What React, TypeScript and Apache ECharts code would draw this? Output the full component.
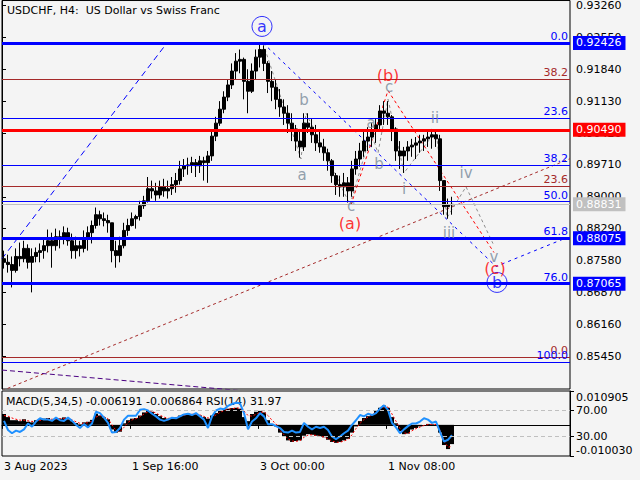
import React, { useEffect, useRef } from 'react';
import * as echarts from 'echarts';

const FONT = 'DejaVu Sans';
const BLUE = '#0000ff';
const RED = '#ff0000';
const BROWN = '#a52a2a';
const GREY_LABEL = '#778899';
const GREY_LINE = '#8c8c8c';
const BG = '#f4f4f4';

// ---------- axes ----------
// one category = 4 H4 bars
const CATEGORY_COUNT = 142;
const xTickIndex = [0, 32, 64, 96];
const xTickLabels = ['3 Aug 2023', '1 Sep 16:00', '3 Oct 00:00', '1 Nov 08:00'];
const priceTicks = [0.9326, 0.9255, 0.9184, 0.9113, 0.9042, 0.8971, 0.89, 0.8829, 0.8758, 0.8687, 0.8616, 0.8545];
const priceMin = 0.84718;
const priceMax = 0.93371;
const macdTicks = [0.010905, -0.01003];
const rsiTicks = [70, 30];

// ---------- price (4-bar candles) ----------
const priceOpen = [0.8762, 0.8754, 0.8749, 0.8736, 0.8767, 0.8762, 0.8785, 0.8754, 0.8767, 0.8776,
  0.8780, 0.8791, 0.8802, 0.8791, 0.8811, 0.8807, 0.8820, 0.8802, 0.8780, 0.8791,
  0.8785, 0.8807, 0.8820, 0.8836, 0.8860, 0.8851, 0.8847, 0.8842, 0.8780, 0.8769,
  0.8791, 0.8825, 0.8836, 0.8851, 0.8856, 0.8880, 0.8891, 0.8918, 0.8913, 0.8904,
  0.8922, 0.8913, 0.8918, 0.8927, 0.8936, 0.8962, 0.8969, 0.8971, 0.8976, 0.8969,
  0.8980, 0.8976, 0.8991, 0.9035, 0.9064, 0.9095, 0.9122, 0.9149, 0.9180, 0.9202,
  0.9206, 0.9157, 0.9135, 0.9180, 0.9211, 0.9228, 0.9197, 0.9157, 0.9144, 0.9117,
  0.9100, 0.9086, 0.9064, 0.9051, 0.9024, 0.9011, 0.9064, 0.9055, 0.9038, 0.9020,
  0.9011, 0.8998, 0.8980, 0.8947, 0.8927, 0.8922, 0.8931, 0.8913, 0.8962, 0.8984,
  0.9002, 0.9024, 0.9033, 0.9046, 0.9060, 0.9091, 0.9086, 0.9078, 0.9051, 0.9002,
  0.8991, 0.9002, 0.9011, 0.9015, 0.9020, 0.9024, 0.9029, 0.9033, 0.9038, 0.9029,
  0.8936, 0.8878, 0.8882];
const priceClose = [0.8754, 0.8749, 0.8736, 0.8767, 0.8762, 0.8785, 0.8754, 0.8767, 0.8776, 0.8780,
  0.8791, 0.8802, 0.8791, 0.8811, 0.8807, 0.8820, 0.8802, 0.8780, 0.8791, 0.8785,
  0.8807, 0.8820, 0.8836, 0.8860, 0.8851, 0.8847, 0.8842, 0.8780, 0.8769, 0.8791,
  0.8825, 0.8836, 0.8851, 0.8856, 0.8880, 0.8891, 0.8918, 0.8913, 0.8904, 0.8922,
  0.8913, 0.8918, 0.8927, 0.8936, 0.8962, 0.8969, 0.8971, 0.8976, 0.8969, 0.8980,
  0.8976, 0.8991, 0.9035, 0.9064, 0.9095, 0.9122, 0.9149, 0.9180, 0.9202, 0.9206,
  0.9157, 0.9135, 0.9180, 0.9211, 0.9228, 0.9197, 0.9157, 0.9144, 0.9117, 0.9100,
  0.9086, 0.9064, 0.9051, 0.9024, 0.9011, 0.9064, 0.9055, 0.9038, 0.9020, 0.9011,
  0.8998, 0.8980, 0.8947, 0.8927, 0.8922, 0.8931, 0.8913, 0.8962, 0.8984, 0.9002,
  0.9024, 0.9033, 0.9046, 0.9060, 0.9091, 0.9086, 0.9078, 0.9051, 0.9002, 0.8991,
  0.9002, 0.9011, 0.9015, 0.9020, 0.9024, 0.9029, 0.9033, 0.9038, 0.9029, 0.8936,
  0.8878, 0.8882, 0.88831];
const priceHigh = [0.8780, 0.8771, 0.8767, 0.8785, 0.8798, 0.8802, 0.8794, 0.8785, 0.8787, 0.8796,
  0.8807, 0.8827, 0.8820, 0.8829, 0.8825, 0.8834, 0.8831, 0.8818, 0.8811, 0.8802,
  0.8825, 0.8834, 0.8847, 0.8876, 0.8869, 0.8865, 0.8860, 0.8842, 0.8802, 0.8811,
  0.8842, 0.8851, 0.8865, 0.8860, 0.8891, 0.8902, 0.8944, 0.8936, 0.8931, 0.8936,
  0.8940, 0.8936, 0.8944, 0.8953, 0.8980, 0.8984, 0.8987, 0.8989, 0.8984, 0.8991,
  0.8989, 0.9002, 0.9046, 0.9078, 0.9113, 0.9135, 0.9162, 0.9197, 0.9220, 0.9228,
  0.9210, 0.9184, 0.9197, 0.9228, 0.92426, 0.9237, 0.9202, 0.9180, 0.9162, 0.9140,
  0.9117, 0.9104, 0.9086, 0.9060, 0.9051, 0.9086, 0.9086, 0.9073, 0.9060, 0.9046,
  0.9029, 0.9007, 0.8984, 0.8953, 0.8947, 0.8953, 0.8944, 0.8980, 0.9002, 0.9020,
  0.9046, 0.9055, 0.9064, 0.9073, 0.9104, 0.9113, 0.9113, 0.9082, 0.9055, 0.9024,
  0.9011, 0.9024, 0.9029, 0.9033, 0.9038, 0.9038, 0.9046, 0.9051, 0.9046, 0.9038,
  0.8936, 0.8896, 0.8900];
const priceLow = [0.8740, 0.8731, 0.8698, 0.8731, 0.8745, 0.8754, 0.8740, 0.8687, 0.8754, 0.8754,
  0.8762, 0.8776, 0.8742, 0.8780, 0.8785, 0.8794, 0.8791, 0.8762, 0.8762, 0.8767,
  0.8776, 0.8780, 0.8796, 0.8829, 0.8836, 0.8834, 0.8820, 0.8754, 0.8742, 0.8754,
  0.8785, 0.8813, 0.8834, 0.8829, 0.8847, 0.8873, 0.8887, 0.8896, 0.8891, 0.8896,
  0.8900, 0.8896, 0.8904, 0.8909, 0.8927, 0.8944, 0.8949, 0.8953, 0.8944, 0.8953,
  0.8936, 0.8931, 0.8980, 0.9024, 0.9058, 0.9086, 0.9113, 0.9140, 0.9162, 0.9175,
  0.9117, 0.9086, 0.9131, 0.9162, 0.9188, 0.9180, 0.9131, 0.9113, 0.9095, 0.9078,
  0.9060, 0.9042, 0.9024, 0.9002, 0.8987, 0.9002, 0.9042, 0.9020, 0.9002, 0.8998,
  0.8980, 0.8958, 0.8931, 0.8904, 0.8900, 0.8900, 0.8887, 0.8900, 0.8949, 0.8967,
  0.8989, 0.9002, 0.9011, 0.9020, 0.9051, 0.9060, 0.9060, 0.9024, 0.8980, 0.8962,
  0.8953, 0.8980, 0.8989, 0.8984, 0.8998, 0.9002, 0.9011, 0.9007, 0.9011, 0.8913,
  0.8860, 0.8851, 0.8860];

// ---------- indicator ----------
const macdHist = [0.0035, 0.0025, 0.0015, 0.0015, 0.0012, 0.0018, 0.0010, 0.0008, 0.0015, 0.0018,
  0.0020, 0.0022, 0.0016, 0.0022, 0.0020, 0.0024, 0.0018, 0.0012, 0.0006, 0.0002,
  0.0008, 0.0010, 0.0016, 0.0036, 0.0030, 0.0024, 0.0018, -0.0015, -0.0025, -0.0022,
  0.0005, 0.0015, 0.0020, 0.0022, 0.0030, 0.0040, 0.0045, 0.0042, 0.0035, 0.0028,
  0.0022, 0.0020, 0.0022, 0.0024, 0.0030, 0.0034, 0.0036, 0.0033, 0.0034, 0.0030,
  0.0025, 0.0020, 0.0030, 0.0038, 0.0045, 0.0050, 0.0052, 0.0054, 0.0055, 0.0052,
  0.0025, 0.0012, 0.0035, 0.0042, 0.0045, 0.0040, 0.0015, 0.0003, -0.0005, -0.0025,
  -0.0038, -0.0050, -0.0055, -0.0052, -0.0050, -0.0035, -0.0030, -0.0032, -0.0035, -0.0038,
  -0.0040, -0.0048, -0.0055, -0.0058, -0.0055, -0.0050, -0.0045, -0.0025, -0.0005, 0.0012,
  0.0022, 0.0028, 0.0035, 0.0045, 0.0055, 0.0062, 0.0055, 0.0025, 0.0005, -0.0020,
  -0.0030, -0.0028, -0.0015, -0.0010, -0.0005, 0.0000, 0.0003, 0.0002, 0.0000, -0.0025,
  -0.0065, -0.0078, -0.0062];
const macdSignal = [0.0030, 0.0028, 0.0022, 0.0018, 0.0015, 0.0015, 0.0013, 0.0011,
  0.0011, 0.0014, 0.0017, 0.0019, 0.0018, 0.0019, 0.0020, 0.0021, 0.0020, 0.0016,
  0.0010, 0.0005, 0.0005, 0.0007, 0.0012, 0.0025, 0.0030, 0.0026, 0.0020,
  0.0000, -0.0018, -0.0022, -0.0008, 0.0008,
  0.0016, 0.0020, 0.0026, 0.0035, 0.0042, 0.0043, 0.0038, 0.0031, 0.0025, 0.0021, 0.0021, 0.0023,
  0.0027, 0.0031, 0.0034, 0.0034, 0.0034, 0.0032, 0.0027, 0.0022,
  0.0025, 0.0032, 0.0040, 0.0046, 0.0050, 0.0052, 0.0054, 0.0054,
  0.0045, 0.0030, 0.0028, 0.0034, 0.0040, 0.0042, 0.0030, 0.0015, 0.0003,
  -0.0018, -0.0032, -0.0045, -0.0052, -0.0053, -0.0051, -0.0040, -0.0033, -0.0032, -0.0034, -0.0037, -0.0039,
  -0.0045, -0.0052, -0.0056, -0.0056, -0.0052, -0.0047, -0.0032, -0.0012, 0.0005,
  0.0017, 0.0025, 0.0032, 0.0041, 0.0051, 0.0058, 0.0057, 0.0035, 0.0012, -0.0012, -0.0026, -0.0028,
  -0.0019, -0.0012, -0.0007, -0.0002, 0.0001, 0.0002, 0.0001, -0.0018, -0.0052, -0.0072, -0.0069];
const rsiValues = [54, 40, 35, 39, 37, 41, 50, 45, 53, 58,
  56, 56, 54, 59, 55, 54, 59, 54, 48, 43,
  49, 44, 50, 68, 66, 59, 51, 36, 37, 43,
  56, 62, 62, 62, 71, 72, 70, 65, 61, 56,
  54, 56, 59, 58, 61, 64, 65, 63, 66, 61,
  56, 43, 61, 70, 73, 72, 77, 80, 82, 81,
  66, 41, 53, 58, 66, 61, 49, 49, 46, 43,
  37, 36, 39, 36, 37, 51, 45, 41, 45, 43,
  45, 40, 30, 26, 30, 35, 39, 48, 55, 63,
  61, 65, 63, 66, 73, 78, 71, 51, 44, 35,
  41, 46, 50, 50, 53, 58, 56, 51, 53, 37,
  22, 25, 31.97];

// ---------- horizontal levels ----------
const blueFibLevels = ['0.0', '23.6', '38.2', '50.0', '61.8', '76.0', '100.0'];
const blueFibPrices = [0.92426, 0.90750, 0.89710, 0.88889, 0.88075, 0.87065, 0.85320];
const redFibLevels = ['0.0', '23.6', '38.2'];
const redFibPrices = [0.85421, 0.89244, 0.91618];
const blueLevelPrices = [0.92426, 0.88075, 0.87065];
const redLevelPrices = [0.90490];
const bidPrice = 0.88831;

// ---------- wave annotations (x in H4 bars from the first bar) ----------
const trendBars = [0, 165];
const trendPrices = [0.8762, 0.92426];
const waveBlueBars = [261, 494, 560];
const waveBluePrices = [0.92426, 0.87447, 0.88046];
const waveRedBars = [349, 386, 492];
const waveRedPrices = [0.8882, 0.91363, 0.87758];
const greyABars = [261, 299, 304, 348];
const greyAPrices = [0.92426, 0.89843, 0.90864, 0.88823];
const greyBBars = [348, 369, 376, 386];
const greyBPrices = [0.88823, 0.9042, 0.89977, 0.91175];
const greyCBars = [386, 402, 434, 445, 464, 491];
const greyCPrices = [0.91175, 0.89533, 0.90465, 0.88534, 0.89222, 0.87957];
const channelBars = [0, 568];
const channelPrices = [0.8468, 0.89848];
const purpleBars = [0, 240];
const purplePrices = [0.8514, 0.8468];

const greyWaveNames = ['b', 'a', 'c', 'a', 'b', 'c', 'i', 'ii', 'iii', 'iv', 'v'];
const greyWaveBars = [302, 300, 349, 369, 377, 387, 402, 433, 447, 464, 492];
const greyWavePrices = [0.91153, 0.89488, 0.888, 0.90642, 0.89733, 0.91441, 0.89178, 0.90753, 0.88202, 0.89533, 0.87669];
const redWaveNames = ['(a)', '(b)', '(c)'];
const redWaveBars = [348, 386, 493];
const redWavePrices = [0.88401, 0.91707, 0.87402];
const circleWaveNames = ['a', 'b'];
const circleWaveBars = [260, 495];
const circleWavePrices = [0.92794, 0.87092];

const MAIN_TITLE = 'USDCHF, H4:  US Dollar vs Swiss Franc';
const IND_TITLE = 'MACD(5,34,5) -0.006191 -0.006864 RSI(14) 31.97';

// ---------- builders ----------
const categories = Array.from({ length: CATEGORY_COUNT }, (_, i) => String(i));
const tickMap: Record<string, string> = {};
xTickIndex.forEach((idx, k) => { tickMap[String(idx)] = xTickLabels[k]; });
const isTick = (idx: number) => xTickIndex.indexOf(idx) >= 0;
const candleData = priceClose.map((c, i) => [priceOpen[i], c, priceLow[i], priceHigh[i]]);
const pts = (bars: number[], prices: number[]) => bars.map((b, i) => [b, prices[i]]);
const named = (names: string[], bars: number[], prices: number[]) =>
  names.map((n, i) => ({ name: n, value: [bars[i], prices[i]] }));

const txt = (color: string, size: number) => ({ color, fontSize: size, fontFamily: FONT });

const fibLabel = (text: string, color: string) => ({
  show: true, position: 'insideEndTop', formatter: text, distance: [2, 1], ...txt(color, 11),
});
const boxLabel = (value: number, bg: string) => ({
  show: true, position: 'end', distance: 3, formatter: value.toFixed(5),
  backgroundColor: bg, padding: [1, 4, 0, 3], lineHeight: 13, ...txt('#ffffff', 11),
});

const levelMarks = [
  ...redFibPrices.map((p, i) => ({ yAxis: p, lineStyle: { color: BROWN, width: 1, type: 'solid' }, label: fibLabel(redFibLevels[i], BROWN) })),
  ...blueFibPrices.map((p, i) => ({ yAxis: p, lineStyle: { color: BLUE, width: 1, type: 'solid' }, label: fibLabel(blueFibLevels[i], BLUE) })),
  { yAxis: bidPrice, lineStyle: { color: '#c0c0c0', width: 1, type: 'solid' }, label: boxLabel(bidPrice, '#c0c0c0') },
  ...redLevelPrices.map((p) => ({ yAxis: p, lineStyle: { color: RED, width: 3, type: 'solid' }, label: boxLabel(p, RED) })),
  ...blueLevelPrices.map((p) => ({ yAxis: p, lineStyle: { color: BLUE, width: 3, type: 'solid' }, label: boxLabel(p, BLUE) })),
];

const annoLine = (bars: number[], prices: number[], color: string, dash: number[], extra: any = {}) => ({
  type: 'line', xAxisIndex: 1, yAxisIndex: 0, data: pts(bars, prices), symbol: 'none',
  silent: true, z: 1, clip: true, lineStyle: { color, width: 1, type: dash }, ...extra,
});

const textSeries = (data: any[], color: string, size: number) => ({
  type: 'scatter', xAxisIndex: 1, yAxisIndex: 0, data, symbol: 'circle', symbolSize: 1,
  itemStyle: { color: 'rgba(0,0,0,0)' }, silent: true, z: 6,
  label: { show: true, position: 'inside', formatter: '{b}', ...txt(color, size) },
});

const axisText = { color: '#000', fontSize: 11, fontFamily: FONT };

const option: any = {
  animation: false,
  backgroundColor: BG,
  textStyle: { fontFamily: FONT },
  title: [
    { text: MAIN_TITLE, left: 7, top: 5, padding: 0, z: 0, textStyle: { ...axisText, fontWeight: 'normal' } },
    { text: IND_TITLE, left: 6, top: 396, padding: 0, z: 0, textStyle: { ...axisText, fontWeight: 'normal' } },
  ],
  grid: [
    { left: 2, top: -1, width: 568, height: 390, show: true, borderColor: '#000', borderWidth: 1, backgroundColor: 'transparent' },
    { left: 2, top: 391, width: 568, height: 65, show: true, borderColor: '#000', borderWidth: 1, backgroundColor: 'transparent' },
  ],
  xAxis: [
    { type: 'category', gridIndex: 0, data: categories, show: false, boundaryGap: true },
    { type: 'value', gridIndex: 0, min: 0, max: 568, show: false },
    {
      type: 'category', gridIndex: 1, data: categories, boundaryGap: true,
      axisLine: { show: true, lineStyle: { color: '#000' } },
      axisTick: { show: true, length: 4, interval: (i: number) => isTick(i), lineStyle: { color: '#000' } },
      axisLabel: { show: true, interval: (i: number) => isTick(i), formatter: (v: string) => tickMap[v] || '', align: 'left', margin: 5, ...axisText },
      splitLine: { show: false },
    },
  ],
  yAxis: [
    {
      type: 'value', gridIndex: 0, position: 'right', min: priceMin, max: priceMax,
      axisLine: { show: true, lineStyle: { color: '#000' } },
      axisTick: { show: true, length: 4, customValues: priceTicks, lineStyle: { color: '#000' } },
      axisLabel: { show: true, customValues: priceTicks, formatter: (v: number) => v.toFixed(5), margin: 6, ...axisText },
      splitLine: { show: false },
    },
    {
      type: 'value', gridIndex: 1, position: 'right', min: macdTicks[1], max: macdTicks[0],
      axisLine: { show: true, lineStyle: { color: '#000' } },
      axisTick: { show: true, length: 4, customValues: macdTicks, lineStyle: { color: '#000' } },
      axisLabel: {
        show: true, customValues: macdTicks, margin: 6, ...axisText,
        formatter: (v: number) => (v > 0 ? `{t|${v.toFixed(6)}}` : `{b|${v.toFixed(6)}}`),
        rich: {
          t: { padding: [12, 0, 0, 0], ...axisText },
          b: { padding: [0, 0, 12, 0], ...axisText },
        },
      },
      splitLine: { show: false },
    },
    {
      type: 'value', gridIndex: 1, position: 'right', min: 0, max: 100,
      axisLine: { show: false },
      axisTick: { show: true, length: 4, customValues: rsiTicks, lineStyle: { color: '#000' } },
      axisLabel: { show: true, customValues: rsiTicks, formatter: (v: number) => v.toFixed(2), margin: 6, ...axisText },
      splitLine: { show: false },
    },
  ],
  series: [
    annoLine(channelBars, channelPrices, BROWN, [3, 3]),
    annoLine(purpleBars, purplePrices, '#4b0082', [5, 3]),
    annoLine(trendBars, trendPrices, BLUE, [6, 4], {
      markLine: { symbol: ['none', 'none'], silent: true, animation: false, precision: 6, data: levelMarks },
    }),
    annoLine(waveBlueBars, waveBluePrices, BLUE, [3, 4]),
    annoLine(greyABars, greyAPrices, GREY_LINE, [3, 3]),
    annoLine(greyBBars, greyBPrices, GREY_LINE, [3, 3]),
    annoLine(greyCBars, greyCPrices, GREY_LINE, [3, 3]),
    annoLine(waveRedBars, waveRedPrices, RED, [3, 3]),
    {
      type: 'candlestick', xAxisIndex: 0, yAxisIndex: 0, data: candleData, barWidth: 3, z: 3, silent: true,
      itemStyle: { color: '#000', color0: '#000', borderColor: '#000', borderColor0: '#000', borderWidth: 1 },
    },
    textSeries(named(greyWaveNames, greyWaveBars, greyWavePrices), GREY_LABEL, 15),
    textSeries(named(redWaveNames, redWaveBars, redWavePrices), RED, 16),
    {
      type: 'scatter', xAxisIndex: 1, yAxisIndex: 0, data: named(circleWaveNames, circleWaveBars, circleWavePrices),
      symbol: 'circle', symbolSize: 20, silent: true, z: 6,
      itemStyle: { color: 'rgba(0,0,0,0)', borderColor: BLUE, borderWidth: 1 },
      label: { show: true, position: 'inside', formatter: '{b}', ...txt(BLUE, 16) },
    },
    {
      type: 'bar', xAxisIndex: 2, yAxisIndex: 1, data: macdHist, barWidth: '100%', barCategoryGap: '0%',
      itemStyle: { color: '#000' }, silent: true, z: 2,
    },
    {
      type: 'line', xAxisIndex: 2, yAxisIndex: 1, data: macdSignal, symbol: 'none', silent: true, z: 3,
      lineStyle: { color: RED, width: 1, type: [2, 2] },
    },
    {
      type: 'line', xAxisIndex: 2, yAxisIndex: 2, data: rsiValues, symbol: 'none', silent: true, z: 4,
      lineStyle: { color: '#1e90ff', width: 2 },
      markLine: {
        symbol: ['none', 'none'], silent: true, animation: false, label: { show: false }, precision: 2,
        lineStyle: { color: '#c0c0c0', width: 1, type: [4, 3] },
        data: rsiTicks.map((v) => ({ yAxis: v })),
      },
    },
  ],
};

export default function App() {
  const ref = useRef<HTMLDivElement>(null);
  useEffect(() => {
    if (!ref.current) return;
    const chart = echarts.init(ref.current, undefined, { renderer: 'svg' });
    chart.setOption(option);
    return () => chart.dispose();
  }, []);
  return (
    <div
      ref={ref}
      style={{ position: 'absolute', left: 0, top: 0, width: 640, height: 480, background: BG }}
    />
  );
}
